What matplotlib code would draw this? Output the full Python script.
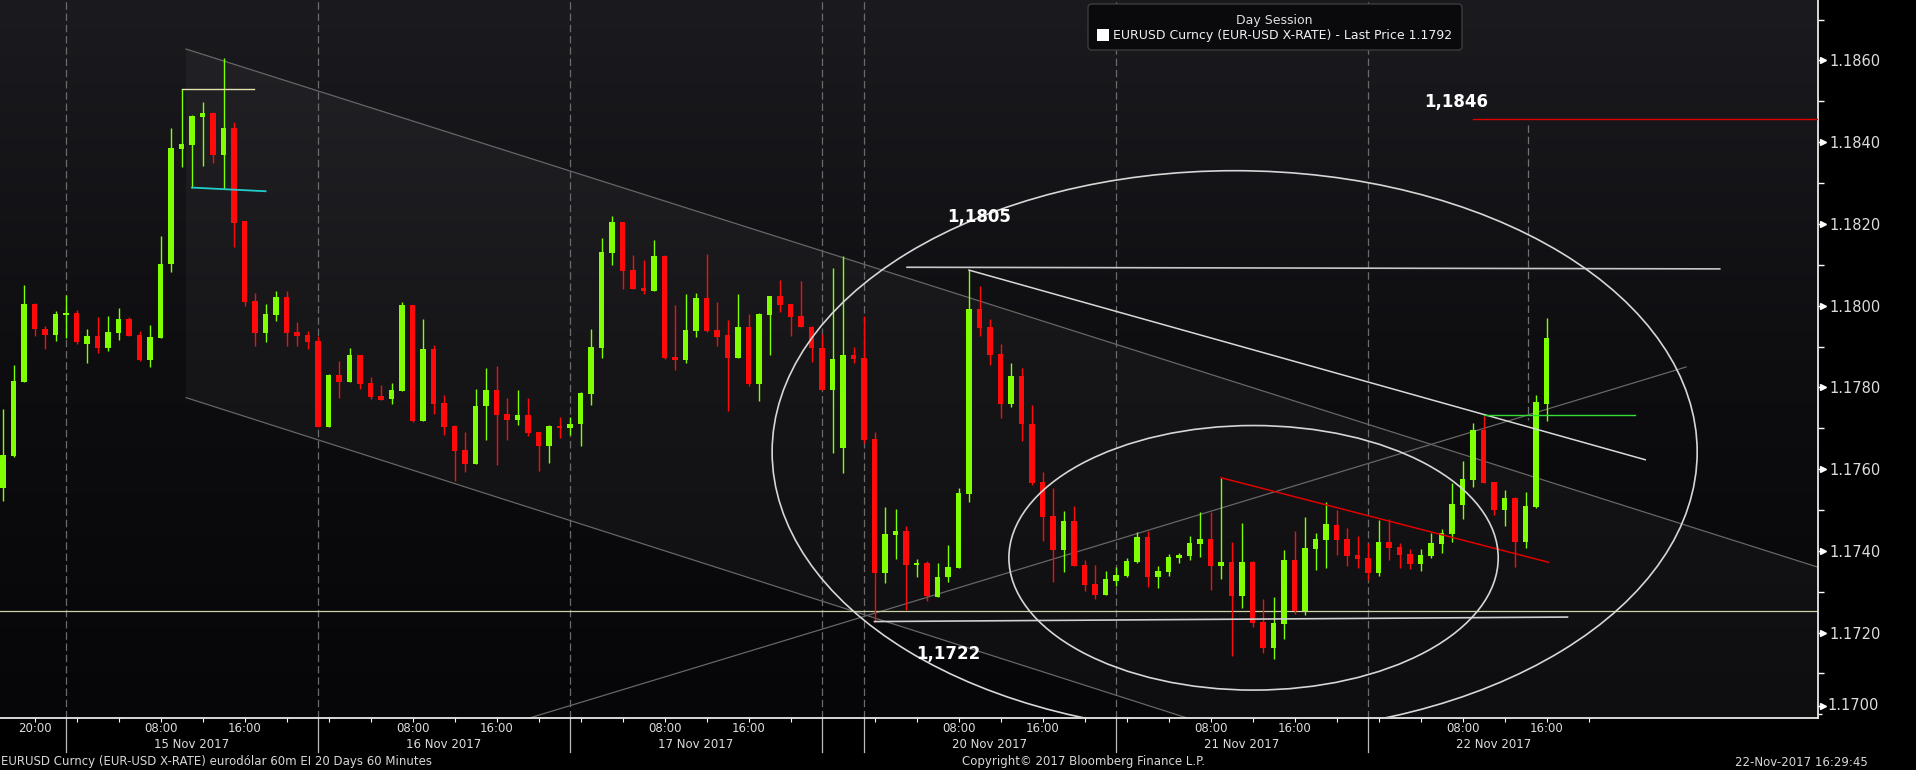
import matplotlib
matplotlib.use("Agg")
import matplotlib.pyplot as plt
import numpy as np
import matplotlib.transforms as mtransforms
from matplotlib.patches import Ellipse, Polygon, FancyBboxPatch, Rectangle
from matplotlib.colors import LinearSegmentedColormap

# ---------------- data ----------------
# hourly bar number: 0 = 15 Nov 2017 00:00 (weekend hours removed)
bars = list(range(-7, 141))

opens = [1.17555, 1.17633, 1.17814, 1.18004, 1.17943, 1.17929, 1.17977,
         1.17982, 1.17907, 1.17926, 1.17897, 1.17934, 1.17967, 1.17928, 1.17868, 1.17922, 1.18103,
         1.18383, 1.18393, 1.18462, 1.18472, 1.18369, 1.18435, 1.18206, 1.18012, 1.17934, 1.17977,
         1.18021, 1.17936, 1.17928, 1.17914, 1.17702, 1.17830, 1.17814, 1.17879, 1.17811, 1.17779,
         1.17772, 1.17792, 1.18002, 1.17719, 1.17894, 1.17762, 1.17706, 1.17647, 1.17613, 1.17755,
         1.17794, 1.17735, 1.17720, 1.17733, 1.17691, 1.17657, 1.17706, 1.17701, 1.17711, 1.17784,
         1.17897, 1.18130, 1.18205, 1.18087, 1.18043, 1.18036, 1.18122, 1.17875, 1.17867, 1.17938,
         1.18019, 1.17941, 1.17928, 1.17872, 1.17948, 1.17808, 1.17977, 1.18024, 1.18004, 1.17975,
         1.17948, 1.17897, 1.17794, 1.17652, 1.17879, 1.17872, 1.17673, 1.17347, 1.17440, 1.17449,
         1.17366, 1.17370, 1.17288, 1.17335, 1.17357, 1.17540, 1.17992, 1.17948, 1.17882, 1.17760,
         1.17828, 1.17711, 1.17568, 1.17485, 1.17403, 1.17473, 1.17366, 1.17319, 1.17293, 1.17327,
         1.17339, 1.17373, 1.17434, 1.17336, 1.17348, 1.17383, 1.17388, 1.17417, 1.17429, 1.17363,
         1.17373, 1.17290, 1.17373, 1.17226, 1.17162, 1.17221, 1.17378, 1.17253, 1.17405, 1.17427,
         1.17464, 1.17429, 1.17390, 1.17383, 1.17346, 1.17422, 1.17410, 1.17393, 1.17368, 1.17388,
         1.17417, 1.17441, 1.17512, 1.17574, 1.17696, 1.17569, 1.17500, 1.17530, 1.17422, 1.17507,
         1.17760]

highs = [1.17747, 1.17855, 1.18051, 1.18006, 1.17951, 1.17987, 1.18026,
         1.17989, 1.17943, 1.17972, 1.17975, 1.17994, 1.17972, 1.17938, 1.17953, 1.18170, 1.18434,
         1.18529, 1.18466, 1.18498, 1.18475, 1.18605, 1.18449, 1.18207, 1.18031, 1.18004, 1.18036,
         1.18036, 1.17960, 1.17938, 1.17926, 1.17834, 1.17865, 1.17897, 1.17879, 1.17825, 1.17806,
         1.17811, 1.18009, 1.18002, 1.17967, 1.17904, 1.17781, 1.17709, 1.17691, 1.17796, 1.17848,
         1.17853, 1.17774, 1.17794, 1.17774, 1.17691, 1.17708, 1.17728, 1.17728, 1.17789, 1.17943,
         1.18166, 1.18220, 1.18205, 1.18124, 1.18112, 1.18161, 1.18124, 1.18002, 1.18029, 1.18031,
         1.18126, 1.18009, 1.17965, 1.18029, 1.17980, 1.17982, 1.18024, 1.18063, 1.18004, 1.18060,
         1.17951, 1.17931, 1.18092, 1.18122, 1.17899, 1.17975, 1.17690, 1.17507, 1.17502, 1.17461,
         1.17380, 1.17375, 1.17370, 1.17414, 1.17553, 1.18087, 1.18048, 1.17967, 1.17906, 1.17860,
         1.17848, 1.17757, 1.17592, 1.17553, 1.17497, 1.17509, 1.17378, 1.17366, 1.17351, 1.17361,
         1.17383, 1.17446, 1.17449, 1.17363, 1.17393, 1.17395, 1.17436, 1.17495, 1.17496, 1.17579,
         1.17422, 1.17468, 1.17375, 1.17282, 1.17287, 1.17402, 1.17449, 1.17483, 1.17444, 1.17520,
         1.17500, 1.17456, 1.17436, 1.17419, 1.17476, 1.17478, 1.17419, 1.17405, 1.17405, 1.17444,
         1.17454, 1.17566, 1.17620, 1.17713, 1.17730, 1.17569, 1.17549, 1.17532, 1.17544, 1.17782,
         1.17970]

lows = [1.17523, 1.17630, 1.17814, 1.17925, 1.17893, 1.17914, 1.17922,
        1.17907, 1.17860, 1.17885, 1.17890, 1.17917, 1.17925, 1.17865, 1.17851, 1.17922, 1.18083,
        1.18340, 1.18289, 1.18343, 1.18349, 1.18286, 1.18144, 1.17998, 1.17902, 1.17912, 1.17963,
        1.17902, 1.17902, 1.17893, 1.17702, 1.17702, 1.17775, 1.17814, 1.17795, 1.17772, 1.17770,
        1.17760, 1.17792, 1.17716, 1.17719, 1.17736, 1.17684, 1.17572, 1.17594, 1.17613, 1.17671,
        1.17609, 1.17671, 1.17708, 1.17681, 1.17596, 1.17615, 1.17676, 1.17684, 1.17657, 1.17757,
        1.17872, 1.18100, 1.18041, 1.18041, 1.18029, 1.18036, 1.17870, 1.17843, 1.17860, 1.17923,
        1.17936, 1.17901, 1.17742, 1.17872, 1.17804, 1.17767, 1.17879, 1.17985, 1.17926, 1.17948,
        1.17862, 1.17794, 1.17640, 1.17591, 1.17860, 1.17664, 1.17227, 1.17322, 1.17379, 1.17256,
        1.17335, 1.17278, 1.17286, 1.17325, 1.17357, 1.17520, 1.17927, 1.17856, 1.17726, 1.17753,
        1.17670, 1.17560, 1.17425, 1.17325, 1.17349, 1.17364, 1.17303, 1.17283, 1.17291, 1.17315,
        1.17337, 1.17370, 1.17312, 1.17308, 1.17339, 1.17370, 1.17378, 1.17385, 1.17305, 1.17330,
        1.17143, 1.17260, 1.17214, 1.17150, 1.17136, 1.17184, 1.17245, 1.17243, 1.17352, 1.17358,
        1.17390, 1.17363, 1.17358, 1.17329, 1.17339, 1.17378, 1.17358, 1.17356, 1.17351, 1.17383,
        1.17395, 1.17422, 1.17478, 1.17556, 1.17566, 1.17488, 1.17461, 1.17361, 1.17407, 1.17505,
        1.17718]

closes = [1.17635, 1.17816, 1.18004, 1.17942, 1.17929, 1.17979, 1.17982,
          1.17911, 1.17926, 1.17897, 1.17936, 1.17967, 1.17927, 1.17868, 1.17923, 1.18102, 1.18386,
          1.18395, 1.18464, 1.18472, 1.18369, 1.18435, 1.18203, 1.18010, 1.17934, 1.17979, 1.18021,
          1.17934, 1.17927, 1.17912, 1.17703, 1.17831, 1.17814, 1.17879, 1.17809, 1.17777, 1.17770,
          1.17794, 1.18002, 1.17719, 1.17894, 1.17760, 1.17704, 1.17645, 1.17613, 1.17755, 1.17794,
          1.17733, 1.17720, 1.17733, 1.17689, 1.17657, 1.17706, 1.17701, 1.17711, 1.17787, 1.17899,
          1.18131, 1.18205, 1.18085, 1.18042, 1.18036, 1.18122, 1.17872, 1.17867, 1.17941, 1.18019,
          1.17938, 1.17923, 1.17872, 1.17948, 1.17808, 1.17980, 1.18024, 1.18002, 1.17972, 1.17948,
          1.17897, 1.17794, 1.17870, 1.17879, 1.17870, 1.17671, 1.17347, 1.17441, 1.17449, 1.17366,
          1.17370, 1.17290, 1.17336, 1.17361, 1.17542, 1.17992, 1.17946, 1.17880, 1.17760, 1.17828,
          1.17711, 1.17567, 1.17484, 1.17403, 1.17473, 1.17364, 1.17317, 1.17293, 1.17331, 1.17341,
          1.17375, 1.17434, 1.17336, 1.17351, 1.17385, 1.17390, 1.17419, 1.17429, 1.17363, 1.17373,
          1.17290, 1.17373, 1.17224, 1.17162, 1.17224, 1.17378, 1.17253, 1.17407, 1.17429, 1.17466,
          1.17427, 1.17388, 1.17380, 1.17346, 1.17422, 1.17407, 1.17390, 1.17368, 1.17390, 1.17419,
          1.17444, 1.17515, 1.17576, 1.17696, 1.17566, 1.17500, 1.17530, 1.17422, 1.17510, 1.17764,
          1.17921]

# x axis labelling
tick_bars = list(range(-4, 72, 4)) + list(range(76, 145, 4))
time_label_bars = [-4, 8, 16, 32, 40, 56, 64, 84, 92, 108, 116, 132, 140]
time_labels = ["20:00", "08:00", "16:00", "08:00", "16:00", "08:00", "16:00",
               "08:00", "16:00", "08:00", "16:00", "08:00", "16:00"]
date_label_bars = [11, 35, 59, 87, 111, 135]
date_labels = ["15 Nov 2017", "16 Nov 2017", "17 Nov 2017",
               "20 Nov 2017", "21 Nov 2017", "22 Nov 2017"]
day_separators = [-1, 23, 47, 71, 75, 99, 123]

y_major = [1.1700, 1.1720, 1.1740, 1.1760, 1.1780, 1.1800, 1.1820, 1.1840, 1.1860]
y_minor = [1.1710, 1.1730, 1.1750, 1.1770, 1.1790, 1.1810, 1.1830, 1.1850, 1.1870]

# user drawn studies (bar, price)
channel_upper = [(10.43, 1.18628), (165.86, 1.17360)]
channel_lower = [(10.43, 1.17775), (165.86, 1.16497)]
support_line = 1.17253
rising_line = [(43.0, 1.16990), (153.3, 1.17850)]
resist_top = [(79.1, 1.18094), (156.5, 1.18090)]
falling_white = [(85.0, 1.18087), (149.4, 1.17623)]
support_white = [(76.0, 1.17227), (142.0, 1.17238)]
falling_red = [(109.0, 1.17579), (140.2, 1.17372)]
green_level = [(134.0, 1.17732), (148.4, 1.17732)]
red_level = [(133.0, 1.18456), (165.86, 1.18456)]
dash_marker = [(138.2, 1.18442), (138.2, 1.17720)]
top_level = [(10.0, 1.18529), (16.9, 1.18529)]
cyan_level = [(11.0, 1.18289), (18.0, 1.18280)]
big_ellipse = dict(center=(110.3, 1.17642), width=88.1, height=0.013766)
small_ellipse = dict(center=(112.1, 1.17383), width=46.6, height=0.006474)
annotations = [("1,1805", 86.0, 1.18217), ("1,1722", 83.0, 1.17148), ("1,1846", 131.4, 1.18499)]

# ---------------- figure ----------------
W, H = 1916, 770
fig = plt.figure(figsize=(W / 100, H / 100), dpi=100, facecolor="black")
ax = fig.add_axes([0, 52 / H, 1818 / W, 718 / H])
x0, x1 = -7.286, 165.857
y0, y1 = 1.16991, 1.18748
ax.set_xlim(x0, x1)
ax.set_ylim(y0, y1)
ax.set_facecolor("#0c0c0f")

cmap = LinearSegmentedColormap.from_list("bg", ["#060608", "#0e0e11", "#1b1b1f"])
grad = np.linspace(0, 1, 256).reshape(-1, 1)
ax.imshow(grad, extent=[x0, x1, y0, y1], origin="lower", aspect="auto",
          cmap=cmap, zorder=0, interpolation="bicubic")

# channel shading
poly = Polygon([channel_upper[0], channel_upper[1], channel_lower[1], channel_lower[0]],
               closed=True, facecolor="white", alpha=0.035, edgecolor="none", zorder=0.5)
ax.add_patch(poly)

# day separators
for b in day_separators:
    ax.axvline(b, color="#6a6a6a", lw=0.9, linestyle=(0, (6, 3)), zorder=1)
    ax.plot([b, b], [0, -34 / 718], transform=ax.get_xaxis_transform(),
            color="#bbbbbb", lw=0.9, clip_on=False)

# gray channel lines and rising line
for s in (channel_upper, channel_lower, rising_line):
    ax.plot([s[0][0], s[1][0]], [s[0][1], s[1][1]], color="#666666", lw=0.9, zorder=2)

ax.axhline(support_line, color="#cfcfa8", lw=0.9, zorder=2)

# candles
o = np.array(opens); h = np.array(highs); l = np.array(lows); c = np.array(closes)
up = c >= o
cols = np.where(up, "#80ff00", "#ff0a0a")
ax.vlines(bars, l, h, colors=cols, lw=1.0, zorder=3)
body_bottom = np.minimum(o, c)
body_h = np.maximum(np.abs(c - o), 0.00004)
ax.bar(bars, body_h, bottom=body_bottom, width=0.5, color=cols, edgecolor="none", zorder=3.5)

# drawn studies
def seg(s, **kw):
    ax.plot([s[0][0], s[1][0]], [s[0][1], s[1][1]], **kw)

seg(resist_top, color="#c8c8c8", lw=1.2, zorder=4)
seg(falling_white, color="#d8d8d8", lw=1.1, zorder=4)
seg(support_white, color="#d0d0d0", lw=1.2, zorder=4)
seg(falling_red, color="#e00000", lw=1.1, zorder=4)
seg(green_level, color="#33dd33", lw=1.0, zorder=4)
seg(red_level, color="#e00000", lw=1.0, zorder=4)
seg(dash_marker, color="#707070", lw=0.9, linestyle=(0, (6, 3)), zorder=4)
seg(top_level, color="#e0e0b0", lw=1.0, zorder=4)
seg(cyan_level, color="#22cccc", lw=1.3, zorder=4)

for e in (big_ellipse, small_ellipse):
    ax.add_patch(Ellipse(e["center"], e["width"], e["height"], fill=False,
                         edgecolor="#d6d6d6", lw=1.2, zorder=4))

for txt, bx, py in annotations:
    ax.text(bx, py, txt, color="white", fontsize=12, fontweight="bold",
            family="DejaVu Sans", ha="center", va="center", zorder=5)

# axes styling
for sp in ("top", "left"):
    ax.spines[sp].set_visible(False)
for sp in ("right", "bottom"):
    ax.spines[sp].set_color("#e8e8e8")
    ax.spines[sp].set_linewidth(1.3)

ax.set_xticks(tick_bars)
ax.tick_params(axis="x", length=3, width=0.8, color="white", labelbottom=False, direction="out")

ax.yaxis.tick_right()
ax.set_yticks(y_major)
ax.set_yticks(y_minor, minor=True)
ax.set_yticklabels(["" if v == 1.1700 else f"{v:.4f}" for v in y_major])
ax.tick_params(axis="y", which="major", length=3, width=1.0, color="white",
               labelcolor="#dcdcdc", labelsize=10.5, pad=5)
ax.tick_params(axis="y", which="minor", length=4, width=1.0, color="white")

# arrow heads at major y ticks
arrow_tr = mtransforms.blended_transform_factory(ax.transAxes, ax.transData) + \
    mtransforms.ScaledTranslation(5 / 100, 0, fig.dpi_scale_trans)
for v in y_major:
    if v != 1.1700:
        ax.plot([1.0], [v], marker=">", ms=4, color="white", mec="white",
                transform=arrow_tr, clip_on=False)
# bottom label (drawn slightly raised, as in the original)
y_last = 1 - 706 / H
fig.text(1827 / W, y_last, "1.1700", color="#dcdcdc", fontsize=10.5, va="center", ha="left")
fig.add_artist(plt.Line2D([1818 / W, 1822 / W], [y_last, y_last], color="white", lw=1.0))
fig.add_artist(plt.Line2D([1823 / W], [y_last], marker=">", ms=4, color="white"))

xa = ax.get_xaxis_transform()
for b, t in zip(time_label_bars, time_labels):
    ax.text(b, -10 / 718, t, transform=xa, color="#dcdcdc", fontsize=8.5,
            ha="center", va="center", clip_on=False)
for b, t in zip(date_label_bars, date_labels):
    ax.text(b, -26 / 718, t, transform=xa, color="#dcdcdc", fontsize=8.5,
            ha="center", va="center", clip_on=False)

# footer
fig.text(1 / W, 1 - 762 / H, "EURUSD Curncy (EUR-USD X-RATE) eurodólar 60m EI 20 Days 60 Minutes",
         color="#d8d8d8", fontsize=8.5, ha="left", va="center")
fig.text(1084 / W, 1 - 762 / H, "Copyright\u00a9 2017 Bloomberg Finance L.P.",
         color="#d8d8d8", fontsize=8.5, ha="center", va="center")
fig.text(1868 / W, 1 - 762 / H, "22-Nov-2017 16:29:45",
         color="#d8d8d8", fontsize=8.5, ha="right", va="center")

# legend box
idt = mtransforms.IdentityTransform()
box = FancyBboxPatch((1088, H - 50), 374, 46, boxstyle="round,pad=0,rounding_size=4",
                     transform=idt, facecolor="#0a0a0c", edgecolor="#3c3c3c", lw=1.0)
fig.add_artist(box)
fig.add_artist(Rectangle((1097, H - 41), 12, 12, transform=idt, facecolor="white", edgecolor="none"))
fig.text(1274 / W, 1 - 20.5 / H, "Day Session", color="#e0e0e0", fontsize=9, ha="center", va="center")
fig.text(1113 / W, 1 - 35.5 / H, "EURUSD Curncy (EUR-USD X-RATE) - Last Price 1.1792",
         color="#f0f0f0", fontsize=9, ha="left", va="center")

fig.savefig("out.png", dpi=100, facecolor="black")
